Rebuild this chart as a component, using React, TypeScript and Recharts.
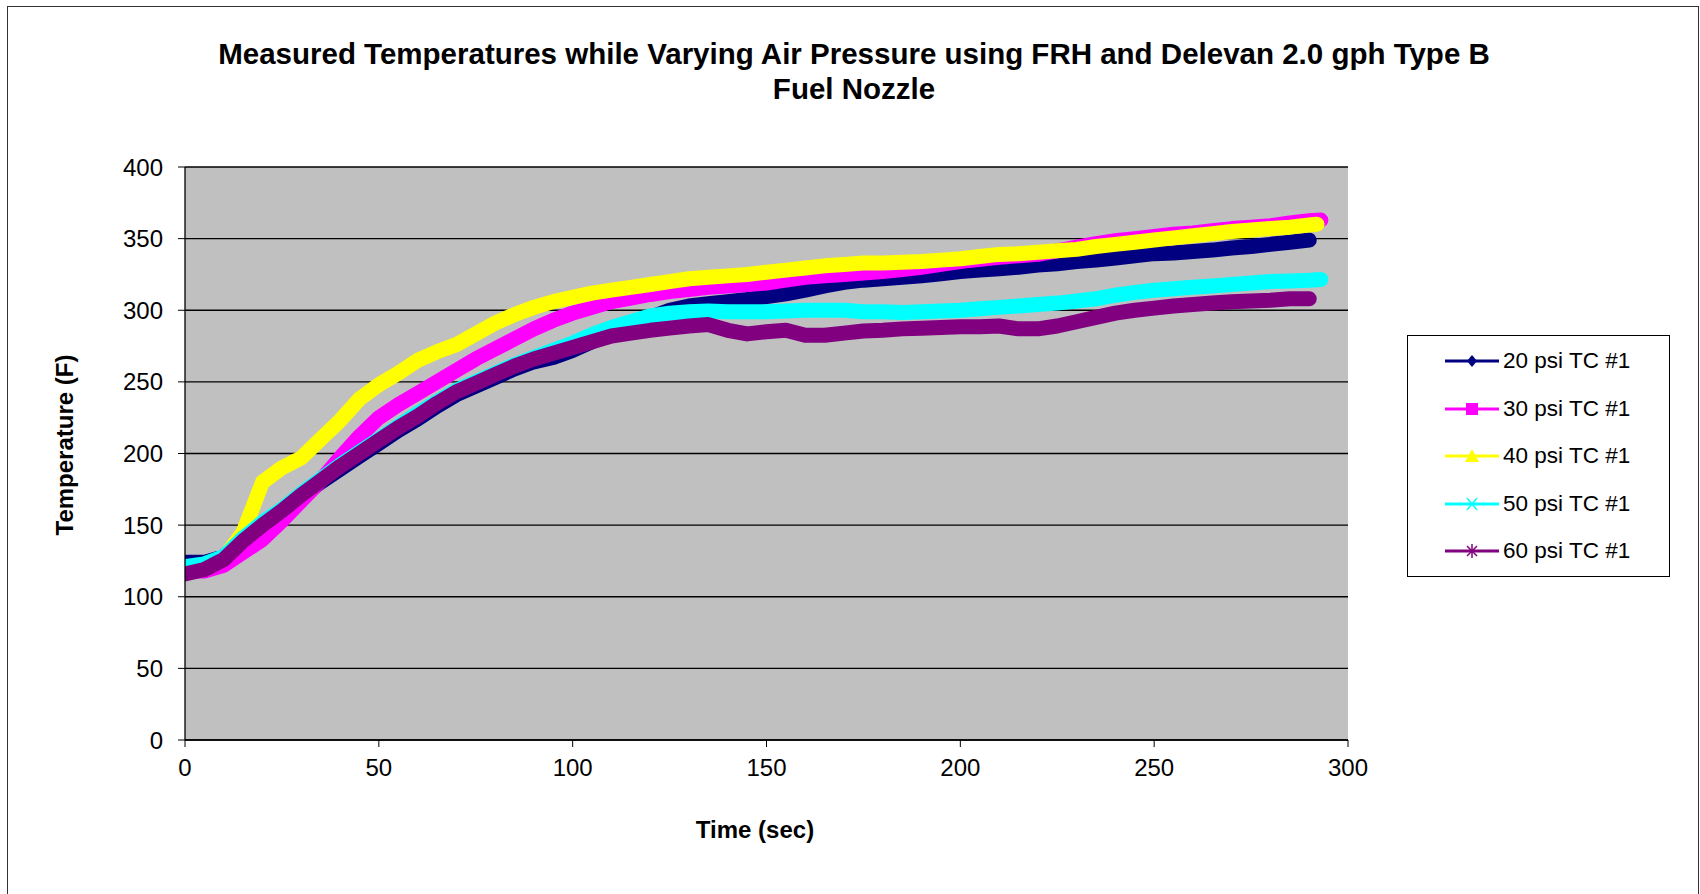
import React from "react";
import { CartesianGrid, Line, LineChart, XAxis, YAxis } from "recharts";

// sample times (sec) shared by all series
const times = [
  0, 5, 10, 15, 20, 25, 30, 35, 40, 45, 50, 55, 60, 65, 70, 75, 80, 85, 90, 95,
  100, 105, 110, 115, 120, 125, 130, 135, 140, 145, 150, 155, 160, 165, 170, 175,
  180, 185, 190, 195, 200, 205, 210, 215, 220, 225, 230, 235, 240, 245, 250, 255,
  260, 265, 270, 275, 280, 285, 290,
];

const psi20 = [
  124, 124, 128, 140, 151, 160, 170, 180, 189, 198, 207, 216, 224, 233, 241, 247,
  253, 259, 264, 267, 272, 278, 284, 289, 295, 300, 303, 304.5, 306, 307.5, 309.5,
  311.5, 314, 317, 319.5, 321, 322, 323, 324, 325.5, 327, 328, 329, 330, 331.5,
  332.5, 334, 335, 336.5, 338, 339.5, 340, 341, 342, 343.5, 344.5, 346, 347.5, 349,
];
const psi30 = [
  118, 118, 122, 131, 140, 153, 167, 181, 197, 212, 225, 234, 242, 250, 258, 266,
  273, 280, 287, 293, 298, 302, 306, 308.5, 311, 313, 314.5, 316, 317, 318, 319,
  321, 323, 324, 325, 326, 327, 328.5, 330, 332, 334, 335.5, 337, 338, 339, 341.5,
  344, 346.5, 348.5, 350, 351.5, 353, 354, 355.5, 357, 358, 359, 361, 362.5,
];
const psi40 = [
  120, 121, 127, 145, 180, 190, 197, 210, 223, 238, 248, 256, 265, 271, 276, 283.5,
  291, 297, 302, 306, 309, 312, 314, 316, 318, 320, 322, 323, 324, 325, 326.5, 328,
  329.5, 331, 332, 333, 333, 333.5, 334, 335, 336, 337.5, 339, 339.5, 340.5, 341.5,
  342.5, 344.5, 346, 347.5, 349, 350.5, 352, 353.5, 355, 356, 357, 358, 359.5,
];
const psi50 = [
  121, 123, 128, 141, 152, 161, 172, 182, 192, 201, 210, 219, 228, 236, 244, 250,
  256, 262, 267, 272, 277, 283, 288, 292, 296, 298, 299, 299.5, 299, 299, 299,
  299.5, 300, 300, 300, 299, 299, 298.5, 299, 299.5, 300, 301, 302, 303, 304, 305,
  306.5, 308, 310.5, 312.5, 314, 315, 316, 317, 318, 319, 320, 320.5, 321,
];
const psi60 = [
  116, 119, 126, 139, 150, 160, 171, 181, 191, 200, 209, 218, 226, 235, 243, 249,
  255, 261, 266, 270, 274, 278, 282, 284, 286, 287.5, 289, 290, 286, 283.5, 285,
  286, 282.5, 282.5, 284, 285.5, 286, 287, 287.5, 288, 288.5, 288.5, 289, 287, 287,
  289, 292, 295, 298, 300, 301.5, 303, 304, 305, 306, 306.5, 307, 308, 308,
];

// last logged readings past 290 s
const psi30Tail = [293, 363];
const psi40Tail = [292, 360];
const psi50Tail = [293, 321.5];

const xTicks = [0, 50, 100, 150, 200, 250, 300];
const yTicks = [0, 50, 100, 150, 200, 250, 300, 350, 400];

const names = ["20 psi TC #1", "30 psi TC #1", "40 psi TC #1", "50 psi TC #1", "60 psi TC #1"];
const colors = ["#000080", "#FF00FF", "#FFFF00", "#00FFFF", "#800080"];

const FONT = "'Liberation Sans', Arial, sans-serif";

function toRows(vals: number[], tail?: number[]) {
  const rows = times.map((t, i) => ({ t, v: vals[i] }));
  if (tail) rows.push({ t: tail[0], v: tail[1] });
  return rows;
}

const seriesData = [
  toRows(psi20),
  toRows(psi30, psi30Tail),
  toRows(psi40, psi40Tail),
  toRows(psi50, psi50Tail),
  toRows(psi60),
];

function Marker({ kind, color }: { kind: number; color: string }) {
  const cx = 27;
  const cy = 10;
  switch (kind) {
    case 0:
      return <polygon points={`${cx},${cy - 6} ${cx + 5},${cy} ${cx},${cy + 6} ${cx - 5},${cy}`} fill={color} />;
    case 1:
      return <rect x={cx - 6} y={cy - 6} width={12} height={12} fill={color} />;
    case 2:
      return <polygon points={`${cx},${cy - 7} ${cx + 7},${cy + 6} ${cx - 7},${cy + 6}`} fill={color} />;
    case 3:
      return (
        <g stroke={color} strokeWidth={1.5}>
          <line x1={cx - 5} y1={cy - 6} x2={cx + 5} y2={cy + 6} />
          <line x1={cx - 5} y1={cy + 6} x2={cx + 5} y2={cy - 6} />
        </g>
      );
    default:
      return (
        <g stroke={color} strokeWidth={1.5}>
          <line x1={cx - 5} y1={cy - 5} x2={cx + 5} y2={cy + 5} />
          <line x1={cx - 5} y1={cy + 5} x2={cx + 5} y2={cy - 5} />
          <line x1={cx} y1={cy - 7} x2={cx} y2={cy + 7} />
        </g>
      );
  }
}

function ChartLegend() {
  return (
    <div
      style={{
        position: "absolute",
        left: 1407,
        top: 335,
        width: 261,
        height: 240,
        border: "1.5px solid #000",
        background: "#fff",
        fontFamily: FONT,
        fontSize: 22.5,
      }}
    >
      {names.map((n, i) => (
        <div
          key={n}
          style={{ position: "absolute", left: 37, top: 25 + i * 47.5 - 12, height: 24, display: "flex", alignItems: "center" }}
        >
          <svg width={54} height={20} style={{ display: "block" }}>
            <line x1={0} y1={10} x2={54} y2={10} stroke={colors[i]} strokeWidth={3} />
            <Marker kind={i} color={colors[i]} />
          </svg>
          <span style={{ marginLeft: 4, color: "#000", whiteSpace: "nowrap" }}>{n}</span>
        </div>
      ))}
    </div>
  );
}

export default function App() {
  return (
    <div style={{ position: "fixed", left: 0, top: 0, width: 1700, height: 894, background: "#fff", overflow: "hidden" }}>
      <div
        style={{
          position: "absolute",
          left: 7,
          top: 6,
          width: 1690,
          height: 1000,
          border: "1.5px solid #333",
        }}
      />
      <div
        style={{
          position: "absolute",
          left: 154,
          top: 36,
          width: 1400,
          textAlign: "center",
          fontFamily: FONT,
          fontWeight: "bold",
          fontSize: 29.5,
          lineHeight: "35px",
          color: "#000",
          whiteSpace: "nowrap",
        }}
      >
        Measured Temperatures while Varying Air Pressure using FRH and Delevan 2.0 gph Type B
        <br />
        Fuel Nozzle
      </div>
      <div style={{ position: "absolute", left: 0, top: 0 }}>
        <LineChart
          width={1700}
          height={894}
          margin={{ top: 167, right: 352, bottom: 114, left: 105 }}
        >
          <CartesianGrid horizontal vertical={false} stroke="#000" strokeWidth={1.3} fill="#C0C0C0" fillOpacity={1} />
          <XAxis
            type="number"
            dataKey="t"
            domain={[0, 300]}
            ticks={xTicks}
            interval={0}
            height={40}
            tickSize={7}
            tickMargin={12}
            axisLine={{ stroke: "#000", strokeWidth: 1.3 }}
            tickLine={{ stroke: "#000" }}
            tick={{ fill: "#000", fontSize: 24, fontFamily: FONT }}
            allowDataOverflow
          />
          <YAxis
            type="number"
            domain={[0, 400]}
            ticks={yTicks}
            interval={0}
            width={80}
            tickSize={7}
            tickMargin={15}
            axisLine={{ stroke: "#000", strokeWidth: 1.3 }}
            tickLine={{ stroke: "#000" }}
            tick={{ fill: "#000", fontSize: 24, fontFamily: FONT }}
            allowDataOverflow
          />
          {seriesData.map((d, i) => (
            <Line
              key={names[i]}
              data={d}
              dataKey="v"
              name={names[i]}
              type="linear"
              stroke={colors[i]}
              strokeWidth={15}
              strokeLinejoin="round"
              strokeLinecap="round"
              dot={false}
              activeDot={false}
              isAnimationActive={false}
            />
          ))}
        </LineChart>
      </div>
      <div
        style={{
          position: "absolute",
          left: 555,
          top: 816,
          width: 400,
          textAlign: "center",
          fontFamily: FONT,
          fontWeight: "bold",
          fontSize: 24,
          lineHeight: "28px",
        }}
      >
        Time (sec)
      </div>
      <div
        style={{
          position: "absolute",
          left: 65 - 150,
          top: 445 - 14,
          width: 300,
          textAlign: "center",
          fontFamily: FONT,
          fontWeight: "bold",
          fontSize: 24,
          lineHeight: "28px",
          transform: "rotate(-90deg)",
        }}
      >
        Temperature (F)
      </div>
      <ChartLegend />
    </div>
  );
}
